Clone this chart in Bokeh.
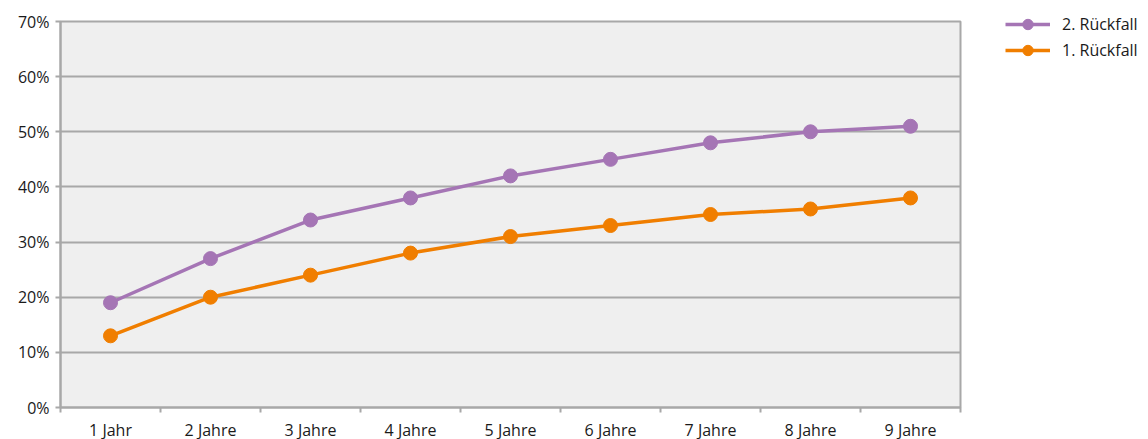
from bokeh.plotting import figure
from bokeh.models import ColumnDataSource, FixedTicker, Legend, LegendItem, Range1d
from bokeh.embed import file_html
from bokeh.resources import INLINE

categories = ["1 Jahr", "2 Jahre", "3 Jahre", "4 Jahre", "5 Jahre", "6 Jahre", "7 Jahre", "8 Jahre", "9 Jahre"]
rueckfall_2 = [19, 27, 34, 38, 42, 45, 48, 50, 51]
rueckfall_1 = [13, 20, 24, 28, 31, 33, 35, 36, 38]
y_ticks = [0, 10, 20, 30, 40, 50, 60, 70]

xs = list(range(1, len(categories) + 1))
src = ColumnDataSource(dict(x=xs, r2=rueckfall_2, r1=rueckfall_1))

PURPLE = "#A575B5"
ORANGE = "#F07E00"
GRID = "#A8A8A8"
FONT = "Open Sans"

p = figure(frame_width=900, frame_height=386, output_backend="svg", toolbar_location=None,
           x_range=Range1d(0.5, len(categories) + 0.5), y_range=Range1d(0, 70),
           min_border_left=60, min_border_right=188, min_border_top=21, min_border_bottom=32)
p.background_fill_color = "#EFEFEF"
p.border_fill_color = "white"
p.outline_line_color = GRID
p.outline_line_width = 2

p.xgrid.grid_line_color = None
p.ygrid.grid_line_color = GRID
p.ygrid.grid_line_width = 2
p.ygrid.ticker = FixedTicker(ticks=y_ticks)

p.xaxis.ticker = FixedTicker(ticks=xs, minor_ticks=[x + 0.5 for x in range(0, len(categories) + 1)])
p.xaxis.major_label_overrides = {i + 1: c for i, c in enumerate(categories)}
p.xaxis.major_tick_line_color = None
p.xaxis.major_tick_out = 5
p.xaxis.major_tick_in = 0
p.xaxis.minor_tick_line_color = GRID
p.xaxis.minor_tick_line_width = 2
p.xaxis.minor_tick_out = 5
p.xaxis.minor_tick_in = 0
p.xaxis.major_label_standoff = 6

p.yaxis.ticker = FixedTicker(ticks=y_ticks)
p.yaxis.major_label_overrides = {t: f"{t}%" for t in y_ticks}
p.yaxis.minor_tick_line_color = None
p.yaxis.major_tick_line_color = GRID
p.yaxis.major_tick_line_width = 2
p.yaxis.major_tick_out = 5
p.yaxis.major_tick_in = 0
p.yaxis.major_label_standoff = 6

for ax in (p.xaxis, p.yaxis):
    ax.axis_line_color = GRID
    ax.axis_line_width = 2
    ax.major_label_text_font = FONT
    ax.major_label_text_font_size = "16px"
    ax.major_label_text_color = "#1a1a1a"

l2 = p.line("x", "r2", source=src, line_color=PURPLE, line_width=3.5)
c2 = p.scatter("x", "r2", source=src, size=14, fill_color=PURPLE, line_color=PURPLE)
l1 = p.line("x", "r1", source=src, line_color=ORANGE, line_width=3.5)
c1 = p.scatter("x", "r1", source=src, size=14, fill_color=ORANGE, line_color=ORANGE)

legend = Legend(items=[LegendItem(label="2. Rückfall", renderers=[l2, c2]),
                       LegendItem(label="1. Rückfall", renderers=[l1, c1])],
                location=(45, 344))
legend.background_fill_alpha = 0
legend.border_line_color = None
legend.padding = 0
legend.margin = 0
legend.spacing = 0
legend.glyph_width = 45
legend.glyph_height = 26
legend.label_height = 20
legend.label_standoff = 12
legend.label_text_font = FONT
legend.label_text_font_size = "16px"
legend.label_text_color = "#1a1a1a"
p.add_layout(legend, "right")

open("out.html", "w").write(file_html(p, INLINE))
